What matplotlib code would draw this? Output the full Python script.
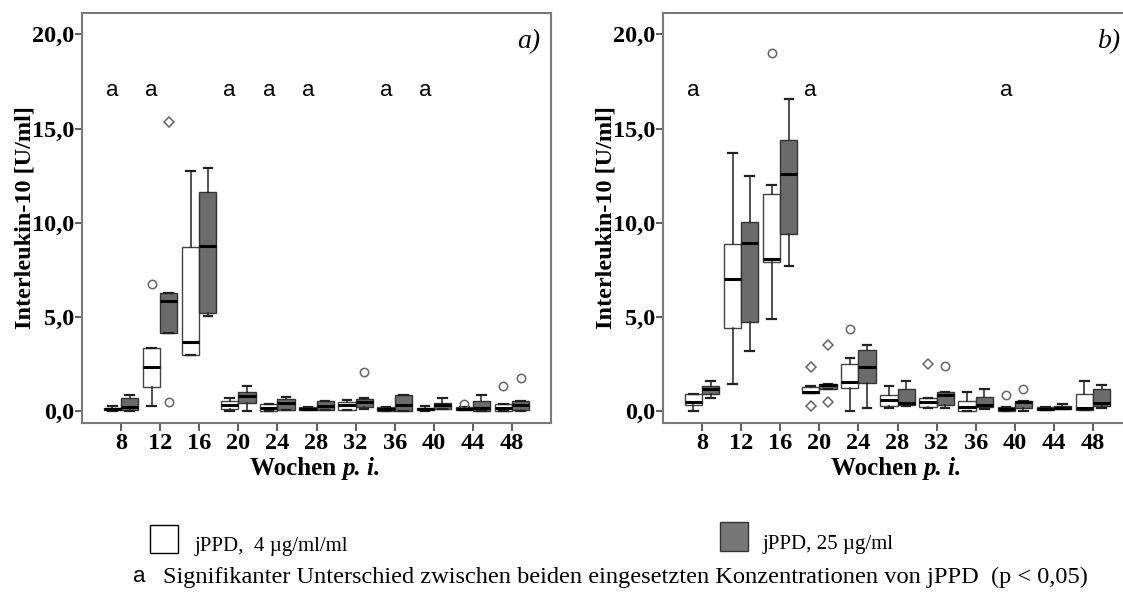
import matplotlib
matplotlib.use("Agg")
import matplotlib.pyplot as plt
from matplotlib.patches import Rectangle
import numpy as np

# %% data (values in U/ml)
weeks = [8, 12, 16, 20, 24, 28, 32, 36, 40, 44, 48]

# panel a) jPPD 4 ug/ml (white)
a_lo_whislo = [0.0, 0.27, 3.0, 0.0, 0.04, 0.05, 0.07, 0.0, 0.0, 0.05, 0.0]
a_lo_q1 = [0.05, 1.28, 3.0, 0.14, 0.04, 0.05, 0.07, 0.0, 0.05, 0.05, 0.0]
a_lo_med = [0.1, 2.37, 3.68, 0.35, 0.18, 0.13, 0.33, 0.1, 0.12, 0.12, 0.18]
a_lo_q3 = [0.18, 3.35, 8.71, 0.57, 0.39, 0.21, 0.5, 0.21, 0.2, 0.21, 0.4]
a_lo_whishi = [0.3, 3.35, 12.75, 0.71, 0.39, 0.21, 0.62, 0.21, 0.28, 0.21, 0.4]
a_lo_circ = [[], [6.73], [], [], [], [], [], [], [], [0.41], [1.33]]
a_lo_diam = [[], [], [], [], [], [], [], [], [], [], []]

# panel a) jPPD 25 ug/ml (grey)
a_hi_whislo = [0.0, 4.13, 5.05, 0.04, 0.09, 0.09, 0.1, 0.0, 0.14, 0.0, 0.0]
a_hi_q1 = [0.05, 4.13, 5.22, 0.44, 0.09, 0.09, 0.21, 0.0, 0.14, 0.0, 0.05]
a_hi_med = [0.25, 5.84, 8.77, 0.8, 0.44, 0.3, 0.5, 0.35, 0.32, 0.18, 0.35]
a_hi_q3 = [0.7, 6.27, 11.62, 1.03, 0.67, 0.57, 0.67, 0.89, 0.46, 0.57, 0.57]
a_hi_whishi = [0.85, 6.27, 12.93, 1.33, 0.76, 0.57, 0.7, 0.89, 0.71, 0.89, 0.57]
a_hi_circ = [[], [0.48], [], [], [], [], [2.09], [], [], [], [1.77]]
a_hi_diam = [[], [15.36], [], [], [], [], [], [], [], [], []]

# panel b) jPPD 4 ug/ml (white)
b_lo_whislo = [0.04, 1.47, 4.92, 0.97, 0.04, 0.2, 0.18, 0.0, 0.0, 0.05, 0.09]
b_lo_q1 = [0.32, 4.40, 7.9, 0.97, 1.24, 0.30, 0.23, 0.0, 0.0, 0.05, 0.09]
b_lo_med = [0.48, 7.01, 8.08, 1.04, 1.54, 0.62, 0.5, 0.23, 0.12, 0.12, 0.18]
b_lo_q3 = [0.92, 8.87, 11.52, 1.28, 2.49, 0.89, 0.68, 0.53, 0.23, 0.23, 0.94]
b_lo_whishi = [0.92, 13.7, 12.03, 1.35, 2.81, 1.33, 0.68, 1.01, 0.23, 0.23, 1.6]
b_lo_circ = [[], [], [19.03], [], [4.38], [], [], [], [0.89], [], []]
b_lo_diam = [[], [], [], [2.34, 0.30], [], [], [2.52], [], [], [], []]

# panel b) jPPD 25 ug/ml (grey)
b_hi_whislo = [0.68, 3.19, 7.69, 1.21, 0.18, 0.27, 0.18, 0.1, 0.0, 0.1, 0.18]
b_hi_q1 = [0.92, 4.76, 9.41, 1.21, 1.51, 0.36, 0.36, 0.21, 0.18, 0.1, 0.30]
b_hi_med = [1.21, 8.93, 12.6, 1.38, 2.36, 0.44, 0.89, 0.36, 0.48, 0.18, 0.44]
b_hi_q3 = [1.33, 10.03, 14.38, 1.45, 3.23, 1.16, 1.01, 0.76, 0.53, 0.27, 1.16]
b_hi_whishi = [1.63, 12.46, 16.56, 1.45, 3.51, 1.63, 1.01, 1.19, 0.53, 0.39, 1.42]
b_hi_circ = [[], [], [], [], [], [], [2.4], [], [1.19], [], []]
b_hi_diam = [[], [], [], [3.51, 0.5], [], [], [], [], [], [], []]

# weeks with significant difference (marked "a")
sig_a = [8, 12, 20, 24, 28, 36, 40]
sig_b = [8, 20, 40]

yticks = [0, 5, 10, 15, 20]
ytick_labels = ["0,0", "5,0", "10,0", "15,0", "20,0"]

SERIF = "Liberation Serif"
SANS = "Liberation Sans"
GREY = "#6b6b6b"
FRAME = "#7a7a7a"


def stats(whislo, q1, med, q3, whishi, circ):
    return [dict(whislo=a, q1=b, med=c, q3=d, whishi=e, fliers=np.array(f))
            for a, b, c, d, e, f in zip(whislo, q1, med, q3, whishi, circ)]


def panel(ax, lo, hi, lo_diam, hi_diam, sig, letter):
    pos = np.arange(1, len(weeks) + 1)
    off = 0.22
    flier = dict(marker="o", markerfacecolor="none", markeredgecolor="#666666",
                 markersize=6, markeredgewidth=1.1)
    common = dict(widths=0.44, patch_artist=True, flierprops=flier,
                  medianprops=dict(color="black", linewidth=2.2),
                  whiskerprops=dict(color="#222222", linewidth=1.1),
                  capprops=dict(color="#222222", linewidth=1.6))
    ax.bxp(lo, positions=pos - off,
           boxprops=dict(facecolor="white", edgecolor="#444444", linewidth=1.0),
           **common)
    ax.bxp(hi, positions=pos + off,
           boxprops=dict(facecolor=GREY, edgecolor="#333333", linewidth=1.0),
           **common)
    for p, vals in zip(pos - off, lo_diam):
        ax.plot([p] * len(vals), vals, "D", mfc="none", mec="#666666", ms=5, mew=1.1)
    for p, vals in zip(pos + off, hi_diam):
        ax.plot([p] * len(vals), vals, "D", mfc="none", mec="#666666", ms=5, mew=1.1)

    for w in sig:
        ax.text(weeks.index(w) + 1 - off, 17.0, "a", family=SANS, fontsize=16,
                ha="center", va="center")

    ax.set_xlim(0.0, 12.0)
    ax.set_ylim(-0.62, 21.13)
    ax.set_xticks(pos)
    ax.set_xticklabels([str(w) for w in weeks], family=SERIF, weight="bold", fontsize=17.5)
    ax.set_yticks(yticks)
    ax.set_yticklabels(ytick_labels, family=SERIF, weight="bold", fontsize=17.5)
    ax.tick_params(axis="y", length=5, width=1.2, color="#444444", pad=0.5)
    ax.tick_params(axis="x", length=6, width=1.2, color="#444444", pad=1.5)
    for s in ax.spines.values():
        s.set_color(FRAME)
        s.set_linewidth(1.5)

    ax.set_ylabel("Interleukin-10 [U/ml]", family=SERIF, weight="bold", fontsize=17.5)
    ax.yaxis.set_label_coords(-0.100, 0.5)
    ax.text(0.556, -0.111, "Wochen ", transform=ax.transAxes, family=SERIF,
            weight="bold", fontsize=18, ha="right", va="center")
    ax.text(0.556, -0.111, "p. i.", transform=ax.transAxes, family=SERIF,
            weight="bold", style="italic", fontsize=18, ha="left", va="center")
    ax.text(0.977, 0.93, letter, transform=ax.transAxes, family=SERIF,
            style="italic", fontsize=20, ha="right", va="center")


# %% figure
fig = plt.figure(figsize=(11.23, 5.94), dpi=100)
ax1 = fig.add_axes([82 / 1123, 171 / 594, 469 / 1123, 410 / 594])
ax2 = fig.add_axes([663 / 1123, 171 / 594, 469 / 1123, 410 / 594])

panel(ax1,
      stats(a_lo_whislo, a_lo_q1, a_lo_med, a_lo_q3, a_lo_whishi, a_lo_circ),
      stats(a_hi_whislo, a_hi_q1, a_hi_med, a_hi_q3, a_hi_whishi, a_hi_circ),
      a_lo_diam, a_hi_diam, sig_a, "a)")
panel(ax2,
      stats(b_lo_whislo, b_lo_q1, b_lo_med, b_lo_q3, b_lo_whishi, b_lo_circ),
      stats(b_hi_whislo, b_hi_q1, b_hi_med, b_hi_q3, b_hi_whishi, b_hi_circ),
      b_lo_diam, b_hi_diam, sig_b, "b)")

# %% legend below the panels
fig.add_artist(Rectangle((150 / 1123, 41 / 594), 28 / 1123, 28 / 594,
                         transform=fig.transFigure, facecolor="white",
                         edgecolor="black", linewidth=1.0))
fig.add_artist(Rectangle((720 / 1123, 43 / 594), 28 / 1123, 29 / 594,
                         transform=fig.transFigure, facecolor="#777777",
                         edgecolor="#333333", linewidth=1.0))
fig.text(195 / 1123, 47 / 594, "jPPD,  4 \u00b5g/ml/ml", family=SERIF, fontsize=15,
         ha="left", va="center")
fig.text(763 / 1123, 49 / 594, "jPPD, 25 \u00b5g/ml", family=SERIF, fontsize=15,
         ha="left", va="center")
fig.text(133 / 1123, 18 / 594, "a", family=SANS, fontsize=16, ha="left", va="center")
fig.text(163 / 1123, 17 / 594,
         "Signifikanter Unterschied zwischen beiden eingesetzten Konzentrationen von jPPD  (p < 0,05)",
         family=SERIF, fontsize=17.6, ha="left", va="center")

fig.savefig("out.png", dpi=100)
